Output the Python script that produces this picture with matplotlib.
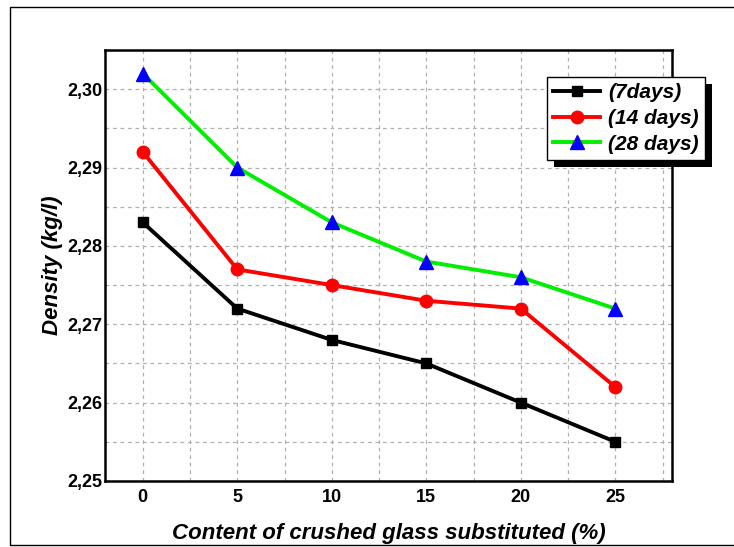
import matplotlib.pyplot as plt
from matplotlib.patches import Rectangle
from matplotlib.ticker import FixedLocator, MultipleLocator, FuncFormatter

plt.rcParams['font.family'] = ['Liberation Sans', 'DejaVu Sans']

# glass content (%) and density (kg/l) at each curing age
content = [0, 5, 10, 15, 20, 25]
d7 = [2.283, 2.272, 2.268, 2.265, 2.260, 2.255]
d14 = [2.292, 2.277, 2.275, 2.273, 2.272, 2.262]
d28 = [2.302, 2.290, 2.283, 2.278, 2.276, 2.272]
labels = ["(7days)", "(14 days)", "(28 days)"]
yticks = [2.25, 2.26, 2.27, 2.28, 2.29, 2.30]

fig = plt.figure(figsize=(7.34, 5.47), dpi=100)
ax = fig.add_axes([0.143, 0.1207, 0.7725, 0.7879])

ax.plot(content, d7, color='black', lw=2.8, marker='s', ms=7.5,
        mfc='black', mec='black', label=labels[0])
ax.plot(content, d14, color='red', lw=2.8, marker='o', ms=9,
        mfc='red', mec='red', label=labels[1])
ax.plot(content, d28, color='#00ee00', lw=2.8, marker='^', ms=10,
        mfc='blue', mec='blue', label=labels[2])

ax.set_xlim(-2, 28)
ax.set_ylim(2.25, 2.305)
ax.xaxis.set_major_locator(FixedLocator(content))
ax.xaxis.set_minor_locator(MultipleLocator(2.5))
ax.yaxis.set_major_locator(FixedLocator(yticks))
ax.yaxis.set_minor_locator(MultipleLocator(0.005))
ax.yaxis.set_major_formatter(FuncFormatter(lambda v, p: f"{v:.2f}".replace('.', ',')))

ax.grid(True, which='both', color='#b0b0b0', ls=(0, (3, 3)), lw=0.9)
ax.tick_params(which='both', length=0, labelsize=13)
ax.tick_params(axis='x', pad=6)
ax.tick_params(axis='y', pad=2)
for t in ax.get_xticklabels() + ax.get_yticklabels():
    t.set_fontweight('bold')
for s in ax.spines.values():
    s.set_linewidth(1.8)

ax.set_xlabel("Content of crushed glass substituted (%)", fontsize=16,
              fontweight='bold', style='italic', labelpad=12)
ax.set_ylabel("Density (kg/l)", fontsize=16, fontweight='bold',
              style='italic', labelpad=3)

leg = ax.legend(loc='upper left', bbox_to_anchor=(0.7795, 0.937), borderaxespad=0,
                fancybox=False, framealpha=1, edgecolor='black',
                handlelength=2.25, borderpad=0.3, labelspacing=0.32,
                handletextpad=0.4,
                prop={'size': 15, 'weight': 'bold', 'style': 'italic'})
leg.get_frame().set_linewidth(1.0)
leg.set_zorder(10)

# solid black drop shadow behind the legend box
fig.canvas.draw()
bb = leg.get_window_extent().transformed(fig.transFigure.inverted())
dx, dy = 7 / 734, 7 / 547
shadow = Rectangle((bb.x0 + dx, bb.y0 - dy), bb.width, bb.height,
                   transform=fig.transFigure, facecolor='black', edgecolor='none',
                   zorder=9, clip_on=False)
ax.add_artist(shadow)

# outer frame around the figure
fig.patches.append(Rectangle((0.0136, 0.0035), 1.1, 0.984, transform=fig.transFigure,
                             fill=False, edgecolor='black', lw=1.0))

fig.savefig('out.png', dpi=100)
plt.close()
